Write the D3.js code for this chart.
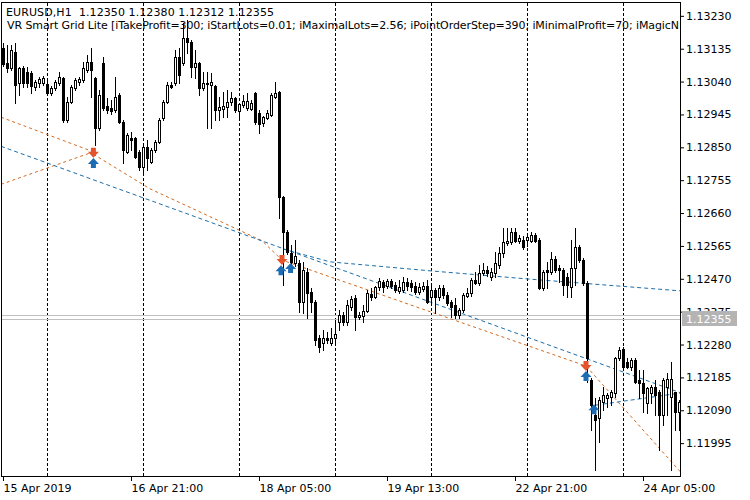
<!DOCTYPE html>
<html><head><meta charset="utf-8">
<script src="https://cdn.jsdelivr.net/npm/d3@7"></script>
<style>
html,body{margin:0;padding:0;background:#fff;}
svg{display:block;font-family:"DejaVu Sans",sans-serif;}
</style></head><body>
<svg id="chart" width="750" height="500"></svg>
<script>
// ---------- DATA (EURUSD H1, bar index 0 = 15 Apr 2019 13:00) ----------
const headerLine1 = "EURUSD,H1  1.12350 1.12380 1.12312 1.12355";
const headerLine2 = "VR Smart Grid Lite [iTakeProfit=300; iStartLots=0.01; iMaximalLots=2.56; iPointOrderStep=390; iMinimalProfit=70; iMagicN";

const open = [
1.13137,1.13094,1.13080,1.13126,1.13036,1.13080,1.13068,1.13065,1.13025,1.13036,
1.13036,1.13033,1.13007,1.13022,1.13036,1.13051,1.12929,1.12981,1.13022,1.13039,
1.13045,1.13074,1.13097,1.13051,1.12906,1.13094,1.12970,1.12964,1.12958,1.13002,
1.12923,1.12837,1.12877,1.12877,1.12837,1.12793,1.12851,1.12808,1.12842,1.12866,
1.12935,1.12981,1.13030,1.13036,1.13111,1.13094,1.13166,1.13155,1.13082,1.13094,
1.13022,1.13036,1.13030,1.13028,1.12958,1.12961,1.12967,1.12981,1.12993,1.12955,
1.12973,1.12964,1.12961,1.13007,1.12949,1.12921,1.12935,1.12944,1.12996,1.13010,
1.12707,1.12605,1.12545,1.12516,1.12516,1.12403,1.12490,1.12432,1.12403,1.12299,
1.12284,1.12299,1.12284,1.12299,1.12345,1.12365,1.12345,1.12388,1.12414,1.12359,
1.12362,1.12377,1.12426,1.12417,1.12446,1.12461,1.12449,1.12464,1.12452,1.12435,
1.12438,1.12461,1.12458,1.12449,1.12432,1.12440,1.12449,1.12417,1.12438,1.12417,
1.12443,1.12423,1.12403,1.12394,1.12365,1.12380,1.12420,1.12429,1.12466,1.12458,
1.12487,1.12495,1.12475,1.12487,1.12510,1.12545,1.12574,1.12576,1.12605,1.12579,
1.12582,1.12582,1.12579,1.12597,1.12582,1.12443,1.12495,1.12490,1.12527,1.12501,
1.12495,1.12475,1.12446,1.12501,1.12562,1.12524,1.12458,1.12177,1.12076,1.12067,
1.12114,1.12125,1.12128,1.12140,1.12241,1.12267,1.12229,1.12215,1.12235,1.12177,
1.12169,1.12111,1.12140,1.12157,1.12143,1.12076,1.12157,1.12128,1.12143,1.12085];
const high = [
1.13152,1.13146,1.13146,1.13152,1.13082,1.13085,1.13082,1.13071,1.13045,1.13054,
1.13056,1.13042,1.13028,1.13045,1.13068,1.13054,1.12996,1.13030,1.13051,1.13054,
1.13097,1.13117,1.13137,1.13054,1.13016,1.13111,1.12993,1.12987,1.13054,1.13007,
1.12929,1.12892,1.12895,1.12880,1.12842,1.12863,1.12871,1.12848,1.12871,1.12935,
1.12987,1.13039,1.13039,1.13132,1.13137,1.13210,1.13218,1.13161,1.13132,1.13097,
1.13068,1.13068,1.13065,1.13030,1.12996,1.13010,1.13016,1.13010,1.12996,1.12978,
1.13002,1.13007,1.12987,1.13010,1.12958,1.12941,1.12958,1.13007,1.13039,1.13013,
1.12710,1.12611,1.12568,1.12582,1.12524,1.12519,1.12501,1.12443,1.12409,1.12307,
1.12322,1.12316,1.12328,1.12351,1.12380,1.12374,1.12409,1.12420,1.12423,1.12374,
1.12394,1.12438,1.12443,1.12449,1.12472,1.12466,1.12469,1.12469,1.12461,1.12466,
1.12475,1.12472,1.12466,1.12461,1.12458,1.12461,1.12466,1.12452,1.12443,1.12452,
1.12452,1.12432,1.12409,1.12414,1.12385,1.12429,1.12443,1.12472,1.12490,1.12510,
1.12516,1.12507,1.12501,1.12547,1.12562,1.12617,1.12617,1.12617,1.12617,1.12597,
1.12594,1.12602,1.12605,1.12602,1.12588,1.12495,1.12519,1.12547,1.12536,1.12510,
1.12501,1.12487,1.12582,1.12617,1.12568,1.12530,1.12464,1.12183,1.12125,1.12128,
1.12157,1.12140,1.12148,1.12244,1.12273,1.12273,1.12241,1.12241,1.12241,1.12206,
1.12206,1.12157,1.12163,1.12177,1.12148,1.12183,1.12198,1.12229,1.12143,1.12119];
const low = [
1.13085,1.13068,1.13074,1.12978,1.13002,1.13025,1.13025,1.13007,1.13016,1.13025,
1.13030,1.13002,1.13002,1.13016,1.13030,1.12923,1.12923,1.12978,1.13016,1.13030,
1.13039,1.13068,1.12996,1.12857,1.12900,1.12958,1.12949,1.12947,1.12952,1.12921,
1.12805,1.12834,1.12842,1.12819,1.12785,1.12776,1.12785,1.12805,1.12837,1.12863,
1.12929,1.12978,1.13022,1.13030,1.13036,1.13088,1.13123,1.13054,1.13051,1.13002,
1.13016,1.12906,1.12906,1.12929,1.12929,1.12938,1.12938,1.12973,1.12952,1.12929,
1.12967,1.12958,1.12958,1.12918,1.12892,1.12912,1.12932,1.12941,1.12993,1.12646,
1.12452,1.12542,1.12501,1.12507,1.12374,1.12371,1.12357,1.12374,1.12279,1.12258,
1.12264,1.12284,1.12279,1.12279,1.12322,1.12336,1.12336,1.12380,1.12322,1.12354,
1.12345,1.12374,1.12409,1.12414,1.12438,1.12432,1.12443,1.12443,1.12432,1.12429,
1.12432,1.12438,1.12435,1.12426,1.12426,1.12435,1.12400,1.12394,1.12371,1.12409,
1.12414,1.12394,1.12359,1.12357,1.12357,1.12374,1.12417,1.12420,1.12455,1.12452,
1.12481,1.12478,1.12466,1.12475,1.12501,1.12533,1.12568,1.12571,1.12576,1.12574,
1.12556,1.12565,1.12576,1.12576,1.12440,1.12438,1.12443,1.12484,1.12490,1.12461,
1.12423,1.12417,1.12417,1.12452,1.12519,1.12452,1.12172,1.12033,1.11917,1.11998,
1.12091,1.12099,1.12105,1.12128,1.12235,1.12206,1.12212,1.12206,1.12169,1.12125,
1.12085,1.12082,1.12111,1.12076,1.11975,1.12047,1.12076,1.11917,1.12033,1.12033];
const close = [
1.13091,1.13080,1.13132,1.13030,1.13080,1.13036,1.13036,1.13028,1.13039,1.13048,
1.13051,1.13007,1.13022,1.13039,1.13054,1.12929,1.12981,1.13025,1.13045,1.13048,
1.13080,1.13097,1.13074,1.12906,1.13002,1.12964,1.12958,1.12955,1.12996,1.12923,
1.12842,1.12886,1.12871,1.12822,1.12793,1.12851,1.12819,1.12842,1.12866,1.12929,
1.12981,1.13030,1.13025,1.13111,1.13059,1.13166,1.13155,1.13082,1.13094,1.13022,
1.13036,1.13033,1.13039,1.12958,1.12967,1.12970,1.12981,1.12993,1.12958,1.12976,
1.12984,1.12984,1.12978,1.12923,1.12918,1.12938,1.12949,1.13002,1.13007,1.12707,
1.12605,1.12547,1.12519,1.12536,1.12403,1.12495,1.12429,1.12403,1.12293,1.12273,
1.12299,1.12293,1.12299,1.12310,1.12365,1.12345,1.12394,1.12412,1.12359,1.12365,
1.12377,1.12429,1.12417,1.12446,1.12464,1.12446,1.12464,1.12449,1.12438,1.12446,
1.12461,1.12449,1.12446,1.12432,1.12446,1.12449,1.12403,1.12438,1.12417,1.12443,
1.12423,1.12400,1.12388,1.12365,1.12380,1.12423,1.12429,1.12466,1.12458,1.12487,
1.12495,1.12487,1.12490,1.12516,1.12545,1.12576,1.12579,1.12605,1.12579,1.12588,
1.12562,1.12591,1.12597,1.12579,1.12443,1.12490,1.12490,1.12527,1.12495,1.12495,
1.12452,1.12452,1.12501,1.12562,1.12524,1.12458,1.12241,1.12105,1.12062,1.12119,
1.12134,1.12134,1.12143,1.12241,1.12264,1.12215,1.12215,1.12235,1.12172,1.12169,
1.12140,1.12154,1.12157,1.12134,1.12076,1.12177,1.12180,1.12180,1.12085,1.12114];

const yTicks = [1.13230,1.13135,1.13040,1.12945,1.12850,1.12755,1.12660,1.12565,1.12470,1.12375,1.12280,1.12185,1.12090,1.11995];
const xTickIndex = [0,32,64,96,128,160];
const xTickLabels = ["15 Apr 2019","16 Apr 21:00","18 Apr 05:00","19 Apr 13:00","22 Apr 21:00","24 Apr 05:00"];
const daySeparators = [11,35,59,83,107,131,155];

const bidPrice = 1.12355;
const askPrice = 1.12364;

// trend lines: [bar index, price]
const orangeLineA = [[-0.5,1.12937],[22.6,1.12837]];
const orangeLineB = [[-0.5,1.12743],[22.6,1.12837]];
const orangeLineC = [[22.6,1.12830],[36.75,1.12730],[64.75,1.12580],[69.75,1.12524],[145.75,1.12218],[169.5,1.11910]];
const blueLineA = [[-0.5,1.12853],[169.5,1.12140]];
const blueLineB = [[70,1.12556],[81.75,1.12519],[106.75,1.12493],[131.75,1.12469],[169.5,1.12435]];
const blueLineC = [[148.25,1.12105],[169.5,1.12140]];

// order arrows
const sellArrows = [[22.6,1.12834],[69.75,1.12524],[145.75,1.12218]];
const buyArrows = [[22.6,1.12805],[69.5,1.12495],[71.9,1.12501],[145.75,1.12189],[147.75,1.12093]];

// ---------- DRAW ----------
const svg = d3.select('#chart');
svg.append('rect').attr('width',750).attr('height',500).attr('fill','#fff');

const x = d3.scaleLinear().domain([0,169]).range([3,679]);
const y = d3.scaleLinear().domain([1.11900,1.13270]).range([476,2]);

const defs = svg.append('defs');
defs.append('clipPath').attr('id','plotclip').append('rect')
  .attr('x',2).attr('y',3).attr('width',678).attr('height',473);

const plot = svg.append('g').attr('clip-path','url(#plotclip)');

// day separators
plot.append('g').selectAll('line').data(daySeparators).join('line')
  .attr('x1',d=>Math.round(x(d))+0.5).attr('x2',d=>Math.round(x(d))+0.5)
  .attr('y1',3).attr('y2',476)
  .attr('stroke','#000').attr('stroke-width',1).attr('stroke-dasharray','3,2');

// bid / ask lines
plot.append('g').selectAll('line').data([askPrice,bidPrice]).join('line')
  .attr('x1',2).attr('x2',680)
  .attr('y1',d=>Math.round(y(d))+0.5).attr('y2',d=>Math.round(y(d))+0.5)
  .attr('stroke','#c0c0c0').attr('stroke-width',1);

// trend lines
const line = d3.line().x(d=>x(d[0])).y(d=>y(d[1]));
const orange = '#d2691e', blue = '#1f6ea8';
[orangeLineA,orangeLineB,orangeLineC].forEach(l=>{
  plot.append('path').attr('d',line(l)).attr('fill','none')
    .attr('stroke',orange).attr('stroke-width',1).attr('stroke-dasharray','3,3');
});
[blueLineA,blueLineB,blueLineC].forEach(l=>{
  plot.append('path').attr('d',line(l)).attr('fill','none')
    .attr('stroke',blue).attr('stroke-width',1).attr('stroke-dasharray','4,3');
});

// candles
const bars = d3.range(open.length).map(i=>({i,o:open[i],h:high[i],l:low[i],c:close[i]}));
const cg = plot.append('g').attr('shape-rendering','crispEdges');
bars.forEach(b=>{
  const cx = Math.round(x(b.i));
  const yh = Math.round(y(b.h)), yl = Math.round(y(b.l));
  const yt = Math.round(y(Math.max(b.o,b.c))), yb = Math.round(y(Math.min(b.o,b.c)));
  cg.append('line').attr('x1',cx+0.5).attr('x2',cx+0.5).attr('y1',yh).attr('y2',yl+1)
    .attr('stroke','#000').attr('stroke-width',1);
  if (b.c > b.o) {
    cg.append('rect').attr('x',cx-0.5).attr('y',yt+0.5).attr('width',2).attr('height',Math.max(yb-yt,0))
      .attr('fill','#fff').attr('stroke','#000').attr('stroke-width',1);
  } else {
    cg.append('rect').attr('x',cx-1).attr('y',yt).attr('width',3).attr('height',Math.max(yb-yt,0)+1)
      .attr('fill','#000');
  }
});

// arrows
function arrowPath(cx, cy, dir){ // dir = 1 down, -1 up
  const s = dir;
  const pts = [[-2.5,-5],[2.5,-5],[2.5,-1],[5.5,-1],[0,5],[-5.5,-1],[-2.5,-1]].map(p=>[cx+p[0], cy+p[1]*s]);
  return 'M'+pts.map(p=>p.join(',')).join('L')+'Z';
}
plot.append('g').selectAll('path').data(sellArrows).join('path')
  .attr('d',d=>arrowPath(x(d[0]),y(d[1]),1)).attr('fill','#e4532b');
plot.append('g').selectAll('path').data(buyArrows).join('path')
  .attr('d',d=>arrowPath(x(d[0]),y(d[1]),-1)).attr('fill','#1d6bb3');

// header text
const tg = plot.append('g').attr('font-size',11).attr('fill','#000');
tg.append('text').attr('x',6).attr('y',16).attr('textLength',268).attr('lengthAdjust','spacing')
  .style('white-space','pre').text(headerLine1);
tg.append('text').attr('x',7).attr('y',29).attr('textLength',672).attr('lengthAdjust','spacing')
  .text(headerLine2);

// frame
svg.append('rect').attr('x',1.5).attr('y',2.5).attr('width',679).attr('height',474)
  .attr('fill','none').attr('stroke','#000').attr('stroke-width',1).attr('shape-rendering','crispEdges');

// right price axis
const yAxis = d3.axisRight(y).tickValues(yTicks).tickSize(4).tickPadding(2).tickFormat(d3.format('.5f'));
const gy = svg.append('g').attr('transform','translate(680,0)').call(yAxis);
gy.select('.domain').remove();
gy.selectAll('text').attr('font-size',11).attr('font-family','DejaVu Sans').attr('fill','#000');
gy.selectAll('line').attr('stroke','#000');

// bottom time axis
const xAxis = d3.axisBottom(x).tickValues(xTickIndex).tickSize(5).tickPadding(3)
  .tickFormat((d,i)=>xTickLabels[i]);
const gx = svg.append('g').attr('transform','translate(0,476)').call(xAxis);
gx.select('.domain').remove();
gx.selectAll('text').attr('font-size',11).attr('font-family','DejaVu Sans').attr('fill','#000')
  .attr('text-anchor','start').attr('dx',0);
gx.selectAll('line').attr('stroke','#000');

// current price label
const by = Math.round(y(bidPrice));
svg.append('rect').attr('x',682).attr('y',by-8).attr('width',55).attr('height',15).attr('fill','#b4b4b4');
svg.append('text').attr('x',686).attr('y',by+4).attr('font-size',11).attr('fill','#fff')
  .text(d3.format('.5f')(bidPrice));
</script>
</body></html>
